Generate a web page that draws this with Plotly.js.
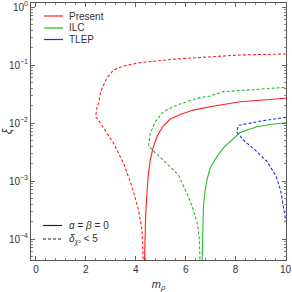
<!DOCTYPE html>
<html>
<head>
<meta charset="utf-8">
<script src="https://cdn.plot.ly/plotly-3.0.1.min.js"></script>
<style>html,body{margin:0;padding:0;background:#fff;}#chart{width:292px;height:292px;}</style>
</head>
<body>
<div id="chart"></div>
<script>
// ---- data (x = m_rho, y = xi) ----
var presentDashedX = [4.31, 4.29, 4.25, 4.11, 3.85, 3.51, 3.11, 2.58, 2.39, 2.45, 2.51, 2.58, 2.65, 2.85, 3.11, 3.51, 4.18, 5.51, 6.85, 8.18, 10.02];
var presentDashedY = [3.0e-5, 7.94e-5, 1.43e-4, 3.16e-4, 7.94e-4, 2.02e-3, 4.47e-3, 1.0e-2, 1.29e-2, 1.91e-2, 2.19e-2, 3.24e-2, 3.98e-2, 6.03e-2, 8.2e-2, 9.62e-2, 0.110, 0.126, 0.139, 0.149, 0.155];

var presentSolidX = [4.34, 4.36, 4.39, 4.44, 4.50, 4.58, 4.70, 4.86, 5.10, 5.38, 5.78, 6.30, 6.98, 8.18, 10.02];
var presentSolidY = [3.0e-5, 9.6e-5, 2.13e-4, 5.51e-4, 1.27e-3, 2.30e-3, 3.85e-3, 5.97e-3, 8.87e-3, 1.17e-2, 1.40e-2, 1.67e-2, 1.91e-2, 2.33e-2, 2.67e-2];

var ilcDashedX = [6.58, 6.55, 6.48, 6.31, 6.05, 5.71, 4.51, 4.58, 4.78, 5.11, 5.65, 6.45, 6.98, 7.51, 8.78, 10.02];
var ilcDashedY = [3.0e-5, 9.6e-5, 1.74e-4, 3.16e-4, 6.14e-4, 1.27e-3, 4.01e-3, 6.64e-3, 1.05e-2, 1.57e-2, 2.04e-2, 2.67e-2, 2.92e-2, 3.47e-2, 3.78e-2, 4.13e-2];

var ilcSolidX = [6.65, 6.67, 6.71, 6.78, 6.85, 6.98, 7.25, 7.54, 7.86, 8.18, 8.85, 9.38, 10.02];
var ilcSolidY = [3.0e-5, 1.17e-4, 3.61e-4, 7.0e-4, 1.04e-3, 1.67e-3, 2.62e-3, 3.85e-3, 5.09e-3, 6.85e-3, 8.63e-3, 9.42e-3, 1.01e-2];

var tlepDashedX = [10.02, 9.10, 8.11, 8.05, 8.31, 8.78, 9.26, 9.62, 9.80, 9.90, 10.02];
var tlepDashedY = [1.253e-2, 1.096e-2, 9.12e-3, 7.00e-3, 5.09e-3, 3.42e-3, 2.17e-3, 1.22e-3, 7.0e-4, 4.18e-4, 1.96e-4];

var xTickVals = [0, 2, 4, 6, 8, 10];
var yTickVals = [1e-4, 1e-3, 1e-2, 1e-1, 1];
var yTickText = ['10<sup>−4</sup>', '10<sup>−3</sup>', '10<sup>−2</sup>', '10<sup>−1</sup>', '10<sup>0</sup>'];
var seriesNames = ['Present', 'ILC', 'TLEP'];
var styleNames = ['<i>α</i> = <i>β</i> = 0', '<i>δ</i><sub><i>χ</i>²</sub> &lt; 5'];

// ---- styling ----
var RED = 'rgb(255,30,30)', GREEN = 'rgb(40,185,40)', BLUE = 'rgb(30,40,255)';
var DASH = '3px,2px';
var W = 1.1;

var yMinor = [];
for (var e = -5; e <= 0; e++) for (var k = 2; k <= 9; k++) yMinor.push(k * Math.pow(10, e));

function tr(x, y, color, dash) {
  return {x: x, y: y, type: 'scatter', mode: 'lines', showlegend: false, hoverinfo: 'skip',
          line: {color: color, width: W, dash: dash || 'solid'}};
}
var data = [
  tr(presentDashedX, presentDashedY, RED, DASH),
  tr(presentSolidX, presentSolidY, RED),
  tr(ilcDashedX, ilcDashedY, GREEN, DASH),
  tr(ilcSolidX, ilcSolidY, GREEN),
  tr(tlepDashedX, tlepDashedY, BLUE, DASH)
];

var L = 31, R = 286, T = 3, B = 260;
function px(v) { return (v - L) / (R - L); }
function py(v) { return (B - v) / (B - T); }

var FONT = 'Liberation Sans, Arial, sans-serif';
var shapes = [], annotations = [];
var legColors = [RED, GREEN, BLUE], legRows = [16, 28, 39.5];
for (var i = 0; i < 3; i++) {
  shapes.push({type: 'line', xref: 'paper', yref: 'paper', x0: px(44), x1: px(63), y0: py(legRows[i]), y1: py(legRows[i]),
               line: {color: legColors[i], width: 1.2}});
  annotations.push({xref: 'paper', yref: 'paper', x: px(67), y: py(legRows[i]), xanchor: 'left', yanchor: 'middle',
               text: seriesNames[i], showarrow: false, font: {family: FONT, size: 10, color: '#333'}});
}
var styleRows = [225.5, 239], styleDash = ['solid', DASH];
for (var j = 0; j < 2; j++) {
  shapes.push({type: 'line', xref: 'paper', yref: 'paper', x0: px(43), x1: px(62), y0: py(styleRows[j]), y1: py(styleRows[j]),
               line: {color: '#222', width: 1.2, dash: styleDash[j]}});
  annotations.push({xref: 'paper', yref: 'paper', x: px(67), y: py(styleRows[j]), xanchor: 'left', yanchor: 'middle',
               text: styleNames[j], showarrow: false, font: {family: FONT, size: 10, color: '#333'}});
}

var axisCommon = {
  showline: true, linecolor: '#555', linewidth: 1, mirror: 'ticks',
  ticks: 'inside', ticklen: 4, tickwidth: 1, tickcolor: '#666',
  showgrid: false, zeroline: false,
  tickfont: {family: FONT, size: 10, color: '#333'}
};

var layout = {
  width: 292, height: 292,
  margin: {l: L, r: 292 - R, t: T, b: 292 - B},
  paper_bgcolor: '#fff', plot_bgcolor: '#fff',
  showlegend: false,
  xaxis: Object.assign({}, axisCommon, {
    range: [-0.2, 10.02], tickmode: 'array', tickvals: xTickVals,
    minor: {tick0: 0, dtick: 0.4, ticks: 'inside', ticklen: 2, tickcolor: '#888', showgrid: false},
    title: {text: '<i>m</i><sub><i>ρ</i></sub>', standoff: 6, font: {family: FONT, size: 11, color: '#333'}}
  }),
  yaxis: Object.assign({}, axisCommon, {
    type: 'log', range: [-4.362, 0.069], tickmode: 'array', tickvals: yTickVals, ticktext: yTickText,
    minor: {tickmode: 'array', tickvals: yMinor, ticks: 'inside', ticklen: 2, tickcolor: '#888', showgrid: false},
    title: {text: '<i>ξ</i>', standoff: 0, font: {family: FONT, size: 12, color: '#333'}}
  }),
  shapes: shapes,
  annotations: annotations
};

Plotly.newPlot('chart', data, layout, {staticPlot: true, displayModeBar: false});
</script>
</body>
</html>
